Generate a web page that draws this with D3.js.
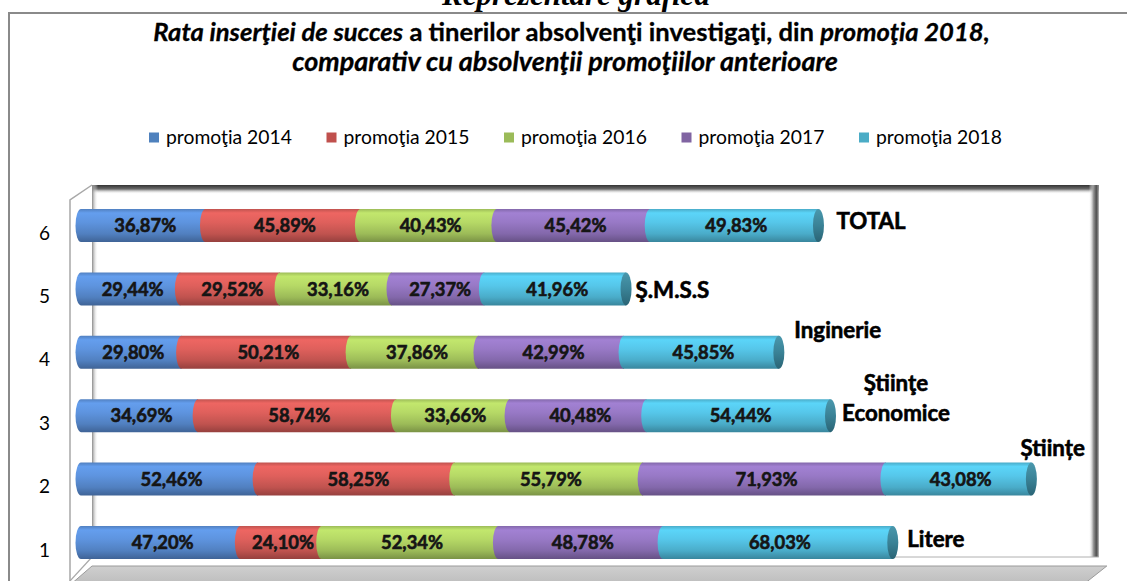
<!DOCTYPE html>
<html>
<head>
<meta charset="utf-8">
<script src="https://cdn.jsdelivr.net/npm/d3@7"></script>
<style>
  html, body { margin: 0; padding: 0; background: #fff; }
  svg { display: block; }
  text { font-family: Lato, "Noto Sans", "Liberation Sans", sans-serif; }
</style>
</head>
<body>
<script>
// ---------------- DATA ----------------
const categories = ["1", "2", "3", "4", "5", "6"];
const categoryNames = ["Litere", "Științe", "Ştiinţe\nEconomice", "Inginerie", "Ş.M.S.S", "TOTAL"];
const seriesNames = ["promoţia 2014", "promoţia 2015", "promoţia 2016", "promoţia 2017", "promoţia 2018"];
const values2014 = [47.20, 52.46, 34.69, 29.80, 29.44, 36.87];
const values2015 = [24.10, 58.25, 58.74, 50.21, 29.52, 45.89];
const values2016 = [52.34, 55.79, 33.66, 37.86, 33.16, 40.43];
const values2017 = [48.78, 71.93, 40.48, 42.99, 27.37, 45.42];
const values2018 = [68.03, 43.08, 54.44, 45.85, 41.96, 49.83];
const xDomainMax = 300;

// ---------------- STYLE / LAYOUT ----------------
const W = 1127, H = 581;
const legendColors = ["#4f81bd", "#c0504d", "#9bbb59", "#8064a2", "#4bacc6"];
const barColors = ["#5a8ed6", "#d65c58", "#aed062", "#9274be", "#52bfe0"];
const front = { left: 70, top: 200, bottom: 572 };
const depth = { dx: 22, dy: -15 };
const mid = { dx: depth.dx / 2, dy: depth.dy / 2 };
const barH = 33, capRx = 5.5;

const svg = d3.select("body").append("svg").attr("width", W).attr("height", H);
const defs = svg.append("defs");

// scales (front plane); bars drawn at mid depth
const x = d3.scaleLinear().domain([0, xDomainMax]).range([front.left, front.left + 1012.8]);
const y = d3.scalePoint().domain(categories.slice().reverse()).range([233, 550]);

function fitWidth(sel, target) {
  const w = sel.node().getComputedTextLength();
  const fs = parseFloat(sel.attr("font-size"));
  sel.attr("font-size", fs * target / w);
  return fs * target / w;
}

// cropped heading above the chart
svg.append("text").attr("x", 576).attr("y", 5).attr("text-anchor", "middle")
  .attr("font-size", 31).attr("font-weight", "bold").attr("font-style", "italic")
  .style("font-family", "'Liberation Serif', 'DejaVu Serif', serif")
  .attr("fill", "#000").text("Reprezentare grafică");

// outer border
svg.append("rect").attr("x", 9).attr("y", 13).attr("width", W + 20).attr("height", H + 20)
  .attr("fill", "none").attr("stroke", "#8a8a8a").attr("stroke-width", 2);

// title
const t1 = svg.append("text").attr("x", 571.5).attr("y", 32).attr("dy", "0.35em")
  .attr("text-anchor", "middle").attr("font-size", 20).attr("font-weight", "bold").attr("fill", "#000")
  .attr("stroke", "#000").attr("stroke-width", 0.3);
t1.append("tspan").attr("font-style", "italic").text("Rata inserţiei de succes");
t1.append("tspan").text(" a tinerilor absolvenţi investigaţi, din ");
t1.append("tspan").attr("font-style", "italic").text("promoţia 2018,");
fitWidth(t1, 837);
const t2 = svg.append("text").attr("x", 565).attr("y", 62).attr("dy", "0.35em")
  .attr("text-anchor", "middle").attr("font-size", 20).attr("font-weight", "bold")
  .attr("font-style", "italic").attr("fill", "#000").attr("stroke", "#000").attr("stroke-width", 0.3)
  .text("comparativ cu absolvenţii promoţiilor anterioare");
fitWidth(t2, 546);

// legend
const legend = svg.append("g");
let legendFs = null;
seriesNames.forEach((name, i) => {
  const gx = 149 + i * 177.5;
  legend.append("rect").attr("x", gx).attr("y", 132.5).attr("width", 10).attr("height", 10)
    .attr("fill", legendColors[i]);
  const t = legend.append("text").attr("x", gx + 17).attr("y", 137.5).attr("dy", "0.35em")
    .attr("font-size", legendFs || 17).attr("fill", "#000").text(name);
  if (!legendFs) legendFs = fitWidth(t, 126);
});

// ---------------- WALLS & FLOOR ----------------
const backLeft = front.left + depth.dx, backTop = front.top + depth.dy;
const backRight = x(xDomainMax) + depth.dx - 6, backBottom = 557;

function lg(id, x1, y1, x2, y2, stops) {
  const g = defs.append("linearGradient").attr("id", id)
    .attr("x1", x1).attr("y1", y1).attr("x2", x2).attr("y2", y2);
  stops.forEach(s => g.append("stop").attr("offset", s[0]).attr("stop-color", s[1]).attr("stop-opacity", s[2] ?? 1));
}
lg("gTop", 0, 0, 0, 1, [[0, "#333"], [0.45, "#6a6a6a"], [1, "#fff", 0]]);
lg("gRight", 0, 0, 1, 0, [[0, "#fff", 0], [0.45, "#9a9a9a"], [0.75, "#505050"], [1, "#9a9a9a"]]);
lg("gLeft", 0, 0, 1, 0, [[0, "#8a8a8a"], [1, "#fff", 0]]);
lg("gFloor", 0, 0, 0, 1, [[0, "#cfcfcf"], [1, "#bcbcbc"]]);

// back wall
svg.append("rect").attr("x", backLeft).attr("y", backTop).attr("width", backRight - backLeft)
  .attr("height", backBottom - backTop).attr("fill", "#fff");
svg.append("rect").attr("x", backLeft).attr("y", backTop).attr("width", backRight - backLeft)
  .attr("height", 9).attr("fill", "url(#gTop)");
svg.append("rect").attr("x", backRight - 10).attr("y", backTop).attr("width", 10)
  .attr("height", backBottom - backTop).attr("fill", "url(#gRight)");
svg.append("rect").attr("x", backLeft).attr("y", backTop).attr("width", 6)
  .attr("height", backBottom - backTop).attr("fill", "url(#gLeft)");

// floor
svg.append("path")
  .attr("d", `M${backLeft},${backBottom + 9} L${backRight + 8},${backBottom + 9} L${backRight + 8 - 24},${H + 4} L${front.left},${H + 4} Z`)
  .attr("fill", "url(#gFloor)").attr("stroke", "#9a9a9a").attr("stroke-width", 1);
svg.append("line").attr("x1", backLeft).attr("x2", backRight).attr("y1", backBottom).attr("y2", backBottom)
  .attr("stroke", "#b0b0b0").attr("stroke-width", 1);

// left side wall edges
svg.append("path")
  .attr("d", `M${front.left},${H + 4} L${front.left},${front.top} L${backLeft},${backTop}`)
  .attr("fill", "none").attr("stroke", "#a8a8a8").attr("stroke-width", 1.5);
svg.append("line").attr("x1", front.left).attr("y1", H).attr("x2", backLeft).attr("y2", backBottom)
  .attr("stroke", "#a8a8a8").attr("stroke-width", 1.2);

// y axis (front plane)
const yAxis = svg.append("g").attr("transform", `translate(${front.left},0)`)
  .call(d3.axisLeft(y).tickSize(0).tickPadding(20));
yAxis.select(".domain").remove();
yAxis.attr("font-size", null).attr("font-family", null);
yAxis.selectAll("text").style("font-size", "19px").attr("fill", "#000")
  .style("font-family", "Lato, 'Noto Sans', sans-serif");

// ---------------- BARS ----------------
barColors.forEach((c, i) => {
  const b = d3.color(c);
  lg("cyl" + i, 0, 0, 0, 1, [
    [0, b.darker(0.3)], [0.12, b.brighter(0.3)], [0.4, b.brighter(0.12)],
    [0.75, b.darker(0.3)], [1, b.darker(1.0)]
  ]);
});
lg("capGrad", 0, 0, 0, 1, [[0, "#4a98ad"], [0.5, "#3a8296"], [1, "#2a6475"]]);

const series = [values2014, values2015, values2016, values2017, values2018];
const stackData = categories.map((c, ci) => {
  const row = { cat: c };
  seriesNames.forEach((s, si) => row[s] = series[si][ci]);
  return row;
});
const stacked = d3.stack().keys(seriesNames)(stackData);

const bx = v => x(v) + mid.dx;
const by = c => y(c) + mid.dy;

const barsG = svg.append("g");
stacked.forEach((layer, si) => {
  const g = barsG.append("g");
  layer.forEach(d => {
    const x0 = bx(d[0]), x1 = bx(d[1]), cy = by(d.data.cat), h = barH / 2;
    g.append("path")
      .attr("d", `M${x0},${cy - h} L${x1},${cy - h} L${x1},${cy + h} L${x0},${cy + h} A${capRx},${h} 0 0 1 ${x0},${cy - h} Z`)
      .attr("fill", `url(#cyl${si})`);
  });
});
const lastLayer = stacked[stacked.length - 1];
lastLayer.forEach(d => {
  barsG.append("ellipse").attr("cx", bx(d[1])).attr("cy", by(d.data.cat))
    .attr("rx", capRx).attr("ry", barH / 2).attr("fill", "url(#capGrad)");
});

// data labels
const labelsG = svg.append("g");
const probe = labelsG.append("text").attr("font-size", 17).attr("font-weight", "bold").text("36,87%");
const dataFs = fitWidth(probe, 62);
probe.remove();
stacked.forEach(layer => {
  layer.forEach(d => {
    const v = d[1] - d[0];
    labelsG.append("text")
      .attr("x", (bx(d[0]) + bx(d[1])) / 2 + 2)
      .attr("y", by(d.data.cat)).attr("dy", "0.36em")
      .attr("text-anchor", "middle").attr("font-size", dataFs).attr("font-weight", "bold")
      .attr("fill", "#151515").attr("stroke", "#151515").attr("stroke-width", 0.6)
      .text(v.toFixed(2).replace(".", ",") + "%");
  });
});

// category name labels (placed next to bar ends, as in the original)
const namePlacement = [
  { dx: 9, dy: -3.5, anchor: "start" },     // Litere
  { dx: 48, dy: -31, anchor: "end" },       // Științe
  { dx: 60, dy: -3, anchor: "middle" },     // Ştiinţe Economice
  { dx: 10, dy: -22, anchor: "start" },     // Inginerie
  { dx: 4, dy: 1, anchor: "start" },        // Ş.M.S.S
  { dx: 12.5, dy: -4.5, anchor: "start" }   // TOTAL
];
const probe2 = labelsG.append("text").attr("font-size", 17).attr("font-weight", "bold").text("Economice");
const nameFs = fitWidth(probe2, 108);
probe2.remove();
lastLayer.forEach((d, ci) => {
  const p = namePlacement[ci];
  const ex = bx(d[1]) + capRx + p.dx;
  const cy = by(d.data.cat) + p.dy;
  const lines = categoryNames[ci].split("\n");
  lines.forEach((ln, li) => {
    labelsG.append("text")
      .attr("x", ex).attr("y", cy - (lines.length - 1 - li) * 30).attr("dy", "0.36em")
      .attr("text-anchor", p.anchor).attr("font-size", nameFs).attr("font-weight", "bold")
      .attr("fill", "#000").attr("stroke", "#000").attr("stroke-width", 0.6).text(ln);
  });
});
</script>
</body>
</html>
